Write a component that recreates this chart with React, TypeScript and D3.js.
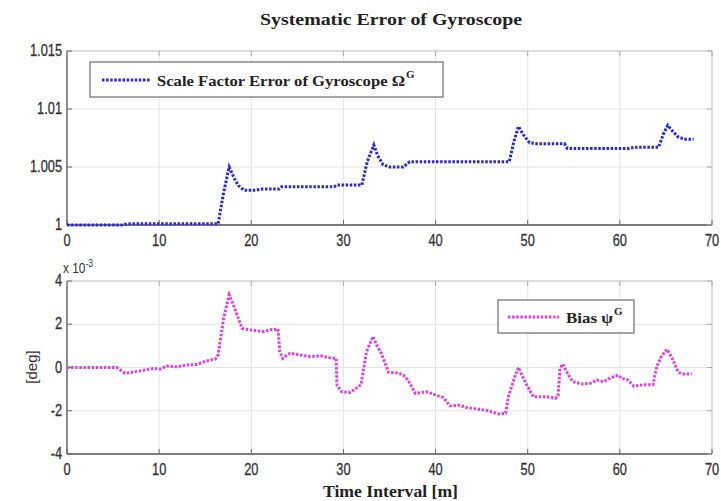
import React from "react";
import * as d3 from "d3";

const xTicks = [0, 10, 20, 30, 40, 50, 60, 70];
const topYTicks = [1, 1.005, 1.01, 1.015];
const topYLabels = ["1", "1.005", "1.01", "1.015"];
const botYTicks = [-4, -2, 0, 2, 4];

// Scale factor error (top)
const sfX = [0, 6, 6.5, 16.4, 17.0, 17.6, 18.1, 18.6, 19.2, 20.5, 21.2, 23.0, 23.3, 29.0, 29.3, 32.0, 32.6, 33.3, 33.7, 34.3, 35.0, 36.5, 37.2, 48.0, 48.5, 49.0, 49.5, 50.2, 51.0, 54.0, 54.3, 61.0, 61.5, 64.2, 64.7, 65.2, 65.6, 66.3, 67.0, 68.0];
const sfY = [1.0, 1.0, 1.0001, 1.0001, 1.0028, 1.005, 1.0041, 1.0034, 1.0030, 1.0030, 1.0031, 1.0031, 1.0033, 1.0033, 1.00345, 1.00345, 1.0055, 1.0069, 1.0060, 1.0052, 1.0050, 1.0050, 1.00546, 1.00546, 1.0072, 1.0085, 1.0078, 1.0071, 1.0070, 1.0070, 1.0066, 1.0066, 1.0067, 1.0067, 1.0078, 1.0086, 1.0082, 1.0076, 1.0074, 1.0074];

// Bias (bottom), units of 1e-3 deg
const bX = [0, 5.4, 6.3, 7.9, 9.4, 10.1, 10.8, 11.9, 13.0, 14.1, 15.1, 16.1, 16.4, 17.0, 17.6, 18.05, 18.4, 19.0, 19.9, 21.3, 22.0, 22.9, 23.1, 23.4, 24.2, 25.3, 26.4, 27.5, 28.5, 29.2, 29.3, 29.8, 30.7, 31.4, 31.9, 32.5, 33.2, 33.6, 34.1, 34.9, 35.96, 36.5, 37.0, 37.8, 39.0, 40.3, 40.8, 41.6, 42.5, 43.4, 44.5, 45.7, 46.8, 47.6, 47.9, 48.6, 49.0, 49.3, 50.0, 50.6, 52.1, 53.0, 53.3, 53.5, 53.8, 54.2, 54.9, 55.9, 56.8, 57.5, 58.2, 58.9, 59.8, 60.2, 60.9, 61.5, 62.5, 63.6, 64.0, 64.5, 65.1, 65.6, 66.3, 66.7, 67.8];
const bY = [0, 0, -0.27, -0.16, -0.04, -0.08, 0.07, 0.03, 0.12, 0.14, 0.3, 0.39, 0.58, 2.28, 3.36, 2.9, 2.5, 1.81, 1.74, 1.66, 1.74, 1.78, 0.73, 0.42, 0.66, 0.58, 0.5, 0.54, 0.45, 0.42, -0.81, -1.12, -1.15, -0.96, -0.8, 0.73, 1.43, 1.05, 0.66, -0.22, -0.26, -0.35, -0.58, -1.2, -1.12, -1.32, -1.38, -1.78, -1.74, -1.86, -1.92, -2.0, -2.15, -2.12, -1.35, -0.42, 0.0, -0.3, -0.89, -1.35, -1.35, -1.43, -1.3, -0.04, 0.16, -0.19, -0.66, -0.76, -0.73, -0.58, -0.66, -0.5, -0.35, -0.5, -0.58, -0.86, -0.8, -0.8, 0.04, 0.5, 0.84, 0.5, -0.19, -0.3, -0.3];

const W = 721;
const H = 501;
const L = 67;
const R = 712;
const topT = 51, topB = 225;
const botT = 281, botB = 454;

const x = d3.scaleLinear().domain([0, 70]).range([L, R]);
const yTop = d3.scaleLinear().domain([1, 1.015]).range([topB, topT]);
const yBot = d3.scaleLinear().domain([-4, 4]).range([botB, botT]);

const tickFont = "'Liberation Sans', Arial, sans-serif";
const serif = "'Liberation Serif', 'Times New Roman', serif";
const SX = 0.8;

function Label({ px, py, anchor, children }: any) {
  return (
    <text transform={`translate(${px},${py}) scale(${SX},1)`} textAnchor={anchor} fontFamily={tickFont} fontSize={16} fill="#333" stroke="#333" strokeWidth={0.3}>{children}</text>
  );
}

function Panel({ yScale, yTicks, yLabels, top, bottom }: any) {
  return (
    <g>
      {xTicks.map((t) => (
        <line key={"gx" + t} x1={x(t)} x2={x(t)} y1={top} y2={bottom} stroke="#e4e4e4" strokeWidth={1} />
      ))}
      {yTicks.map((t: number) => (
        <line key={"gy" + t} x1={L} x2={R} y1={yScale(t)} y2={yScale(t)} stroke="#e4e4e4" strokeWidth={1} />
      ))}
      <line x1={L} x2={R} y1={top} y2={top} stroke="#c8c8c8" strokeWidth={1} />
      <line x1={R} x2={R} y1={top} y2={bottom} stroke="#c8c8c8" strokeWidth={1} />
      <line x1={L} x2={L} y1={top} y2={bottom} stroke="#555" strokeWidth={1.3} />
      <line x1={L} x2={R} y1={bottom} y2={bottom} stroke="#555" strokeWidth={1.3} />
      {xTicks.map((t) => (
        <g key={"tx" + t}>
          <line x1={x(t)} x2={x(t)} y1={bottom} y2={bottom - 5} stroke="#666" />
          <line x1={x(t)} x2={x(t)} y1={top} y2={top + 5} stroke="#aaa" />
          <Label px={x(t)} py={bottom + 21} anchor="middle">{t}</Label>
        </g>
      ))}
      {yTicks.map((t: number, i: number) => (
        <g key={"ty" + t}>
          <line x1={L} x2={L + 5} y1={yScale(t)} y2={yScale(t)} stroke="#666" />
          <line x1={R} x2={R - 5} y1={yScale(t)} y2={yScale(t)} stroke="#aaa" />
          <Label px={L - 5} py={yScale(t) + 5} anchor="end">{yLabels[i]}</Label>
        </g>
      ))}
    </g>
  );
}

export default function App() {
  const topLine = d3.line<number>().x((d, i) => x(sfX[i])).y((d) => yTop(d))(sfY) || "";
  const botLine = d3.line<number>().x((d, i) => x(bX[i])).y((d) => yBot(d))(bY) || "";
  return (
    <svg width={W} height={H} style={{ position: "absolute", left: 0, top: 0, background: "#fff" }}>
      <rect x={0} y={0} width={W} height={H} fill="#fff" />
      <text x={260} y={25} fontFamily={serif} fontWeight="bold" fontSize={17} fill="#222" textLength={262} lengthAdjust="spacingAndGlyphs">Systematic Error of Gyroscope</text>
      <Panel yScale={yTop} yTicks={topYTicks} yLabels={topYLabels} top={topT} bottom={topB} />
      <Panel yScale={yBot} yTicks={botYTicks} yLabels={botYTicks.map(String)} top={botT} bottom={botB} />
      <path d={topLine} fill="none" stroke="#2828d8" strokeWidth={3} strokeDasharray="2.5 1.6" />
      <path d={botLine} fill="none" stroke="#e040e0" strokeWidth={3} strokeDasharray="2.5 1.6" />
      {/* top legend */}
      <rect x={90} y={62} width={353} height={35} fill="#fff" stroke="#777" strokeWidth={1.3} />
      <line x1={102} x2={150} y1={80} y2={80} stroke="#2828d8" strokeWidth={3} strokeDasharray="2.5 1.6" />
      <text x={157} y={86} fontFamily={serif} fontWeight="bold" fontSize={15} fill="#222" textLength={248} lengthAdjust="spacingAndGlyphs">Scale Factor Error of Gyroscope Ω</text>
      <text x={406} y={78} fontFamily={serif} fontWeight="bold" fontSize={11} fill="#222">G</text>
      {/* bottom legend */}
      <rect x={498} y={300} width={136} height={33} fill="#fff" stroke="#777" strokeWidth={1.3} />
      <line x1={508} x2={559} y1={317} y2={317} stroke="#e040e0" strokeWidth={3} strokeDasharray="2.5 1.6" />
      <text x={566} y={323} fontFamily={serif} fontWeight="bold" fontSize={15} fill="#222" textLength={47} lengthAdjust="spacingAndGlyphs">Bias ψ</text>
      <text x={614} y={315} fontFamily={serif} fontWeight="bold" fontSize={11} fill="#222">G</text>
      <text transform="translate(63,273) scale(0.85,1)" fontFamily={tickFont} fontSize={14} fill="#333">
        x 10<tspan dy={-6} fontSize={10}>-3</tspan>
      </text>
      <text transform="translate(37,367) rotate(-90)" textAnchor="middle" fontFamily={tickFont} fontSize={15} fill="#333">[deg]</text>
      <text x={323} y={497} fontFamily={serif} fontWeight="bold" fontSize={16} fill="#222" textLength={135} lengthAdjust="spacingAndGlyphs">Time Interval [m]</text>
    </svg>
  );
}
